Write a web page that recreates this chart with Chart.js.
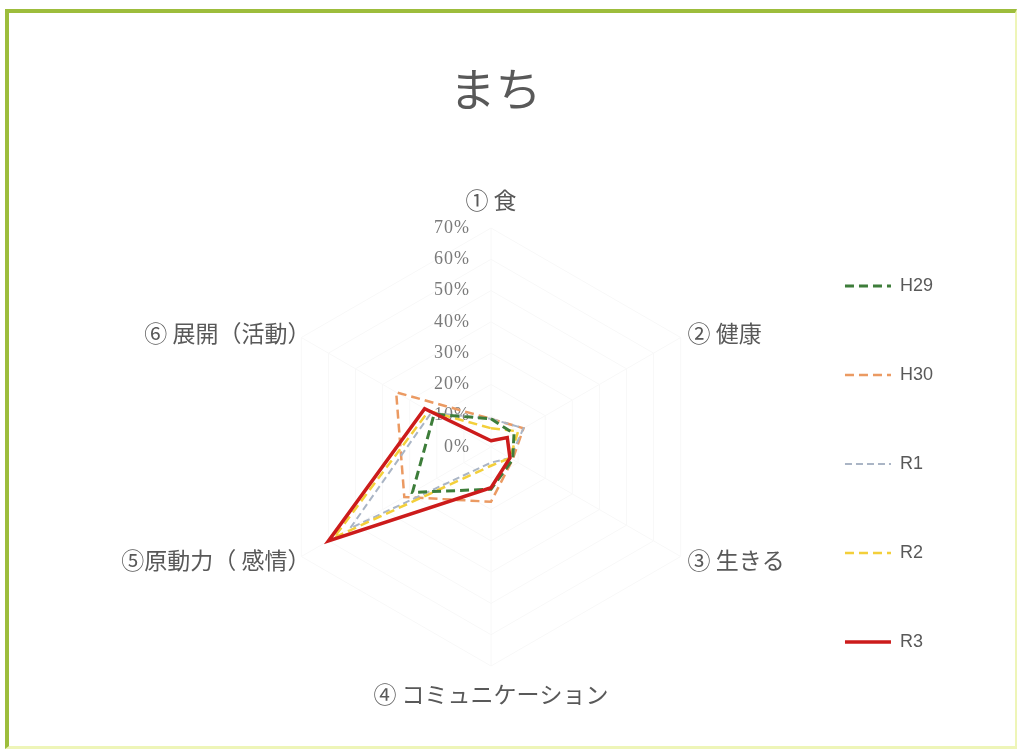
<!DOCTYPE html>
<html lang="ja">
<head>
<meta charset="utf-8">
<title>まち</title>
<script src="https://cdn.jsdelivr.net/npm/chart.js@4.4.1/dist/chart.umd.min.js"></script>
<style>
  html, body { margin: 0; padding: 0; background: #fff; }
  #frame {
    position: absolute; left: 5px; top: 9px; width: 1006px; height: 733px;
    border-top: 4px solid #9dbd3c; border-left: 4px solid #9dbd3c;
    border-right: 2px solid #eef5b8; border-bottom: 3px solid #eef5b8;
  }
  #wrap { position: absolute; left: 0; top: 0; width: 1017px; height: 749px; }
</style>
</head>
<body>
<div id="frame"></div>
<div id="wrap"><canvas id="radar"></canvas></div>
<script>
// axes of the radar
var categories = ['① 食', '② 健康', '③ 生きる', '④ コミュニケーション', '⑤原動力（ 感情）', '⑥ 展開（活動）'];

// survey results per year, in %
var h29 = [9, 8.5, 8, 13.5, 29, 21];
var h30 = [9, 12, 8, 17.5, 32, 35];
var r1 = [9, 12, 7, 5, 52, 22];
var r2 = [6, 10, 7, 6, 58, 23];
var r3 = [2, 6, 7, 13, 60, 24.5];

// scale 0% - 70%, every 10%
var scaleMax = 70;
var scaleStep = 10;

var textGray = '#595959';
var jpFont = '"Noto Sans CJK JP", "Noto Sans", sans-serif';

// keep the web in one place, labels sit just outside it
var centerX = 491, centerY = 447, radius = 219;

function pinRadar(scale) {
  scale.xCenter = centerX;
  scale.yCenter = centerY;
  scale.drawingArea = radius;
  scale._pointLabelItems.forEach(function(item, i) {
    var w = item.right - item.left;
    var h = item.bottom - item.top;
    var gap = item.textAlign === 'center' ? 14 : 8;
    var p = scale.getPointPosition(i, radius + gap);
    var top;
    if (item.textAlign === 'center') {
      top = p.y < centerY ? p.y - h : p.y;
      item.left = p.x - w / 2;
    } else if (item.textAlign === 'left') {
      top = p.y - h / 2;
      item.left = p.x;
    } else {
      // full-width ")" leaves empty room on the right, pull these in a bit
      p.x += 16;
      top = p.y - h / 2;
      item.left = p.x - w;
    }
    item.x = p.x;
    item.y = top;
    item.top = top;
    item.bottom = top + h;
    item.right = item.left + w;
  });
}

// % labels up the first spoke, left of it like the old sheet had them
var tickLabels = {
  id: 'tickLabels',
  beforeDatasetsDraw: function(chart) {
    var r = chart.scales.r;
    var ctx = chart.ctx;
    ctx.save();
    ctx.font = '18px "Liberation Serif", serif';
    ctx.letterSpacing = '1px';
    ctx.fillStyle = '#7a7a7a';
    ctx.textAlign = 'right';
    ctx.textBaseline = 'middle';
    r.ticks.forEach(function(t) {
      ctx.fillText(t.label, r.xCenter - 21, r.yCenter - r.getDistanceFromCenterForValue(t.value));
    });
    ctx.restore();
  }
};

function series(label, data, color, width, dash, order) {
  return {
    label: label,
    data: data,
    borderColor: color,
    backgroundColor: 'transparent',
    borderWidth: width,
    borderDash: dash,
    fill: false,
    pointRadius: 0,
    pointHoverRadius: 0,
    order: order
  };
}

new Chart(document.getElementById('radar'), {
  type: 'radar',
  data: {
    labels: categories,
    datasets: [
      series('H29', h29, '#3d7d3a', 3, [9, 5], 1),
      series('H30', h30, '#eb9a62', 2.5, [9, 5], 4),
      series('R1', r1, '#aab5c5', 2, [7, 4], 3),
      series('R2', r2, '#f3cf3a', 2.5, [9, 5], 2),
      series('R3', r3, '#cc1b1b', 3.5, [], 0)
    ]
  },
  options: {
    responsive: true,
    maintainAspectRatio: false,
    animation: false,
    layout: { padding: { top: 10, left: 48, right: 74, bottom: 27 } },
    plugins: {
      title: {
        display: true,
        text: 'まち',
        color: textGray,
        font: { family: jpFont, size: 46, weight: 'normal' },
        padding: { top: 51, bottom: 10 }
      },
      legend: {
        position: 'right',
        align: 'end',
        labels: {
          usePointStyle: true,
          pointStyle: 'line',
          pointStyleWidth: 46,
          padding: 71,
          color: textGray,
          font: { family: '"Liberation Sans", Arial, sans-serif', size: 18 },
          generateLabels: function(chart) {
            return chart.data.datasets.map(function(ds, i) {
              return {
                text: ds.label,
                strokeStyle: ds.borderColor,
                fillStyle: ds.borderColor,
                lineWidth: ds.borderWidth,
                lineDash: ds.borderDash,
                pointStyle: 'line',
                fontColor: textGray,
                hidden: false,
                datasetIndex: i
              };
            });
          }
        }
      },
      tooltip: { enabled: false }
    },
    scales: {
      r: {
        min: 0,
        max: scaleMax,
        ticks: {
          stepSize: scaleStep,
          display: false,
          callback: function(v) { return v + '%'; }
        },
        grid: { color: '#f8f8f8' },
        angleLines: { color: '#f8f8f8' },
        pointLabels: {
          color: textGray,
          font: { family: jpFont, size: 23 },
          padding: 8
        },
        afterFit: pinRadar
      }
    }
  },
  plugins: [tickLabels]
});
</script>
</body>
</html>
